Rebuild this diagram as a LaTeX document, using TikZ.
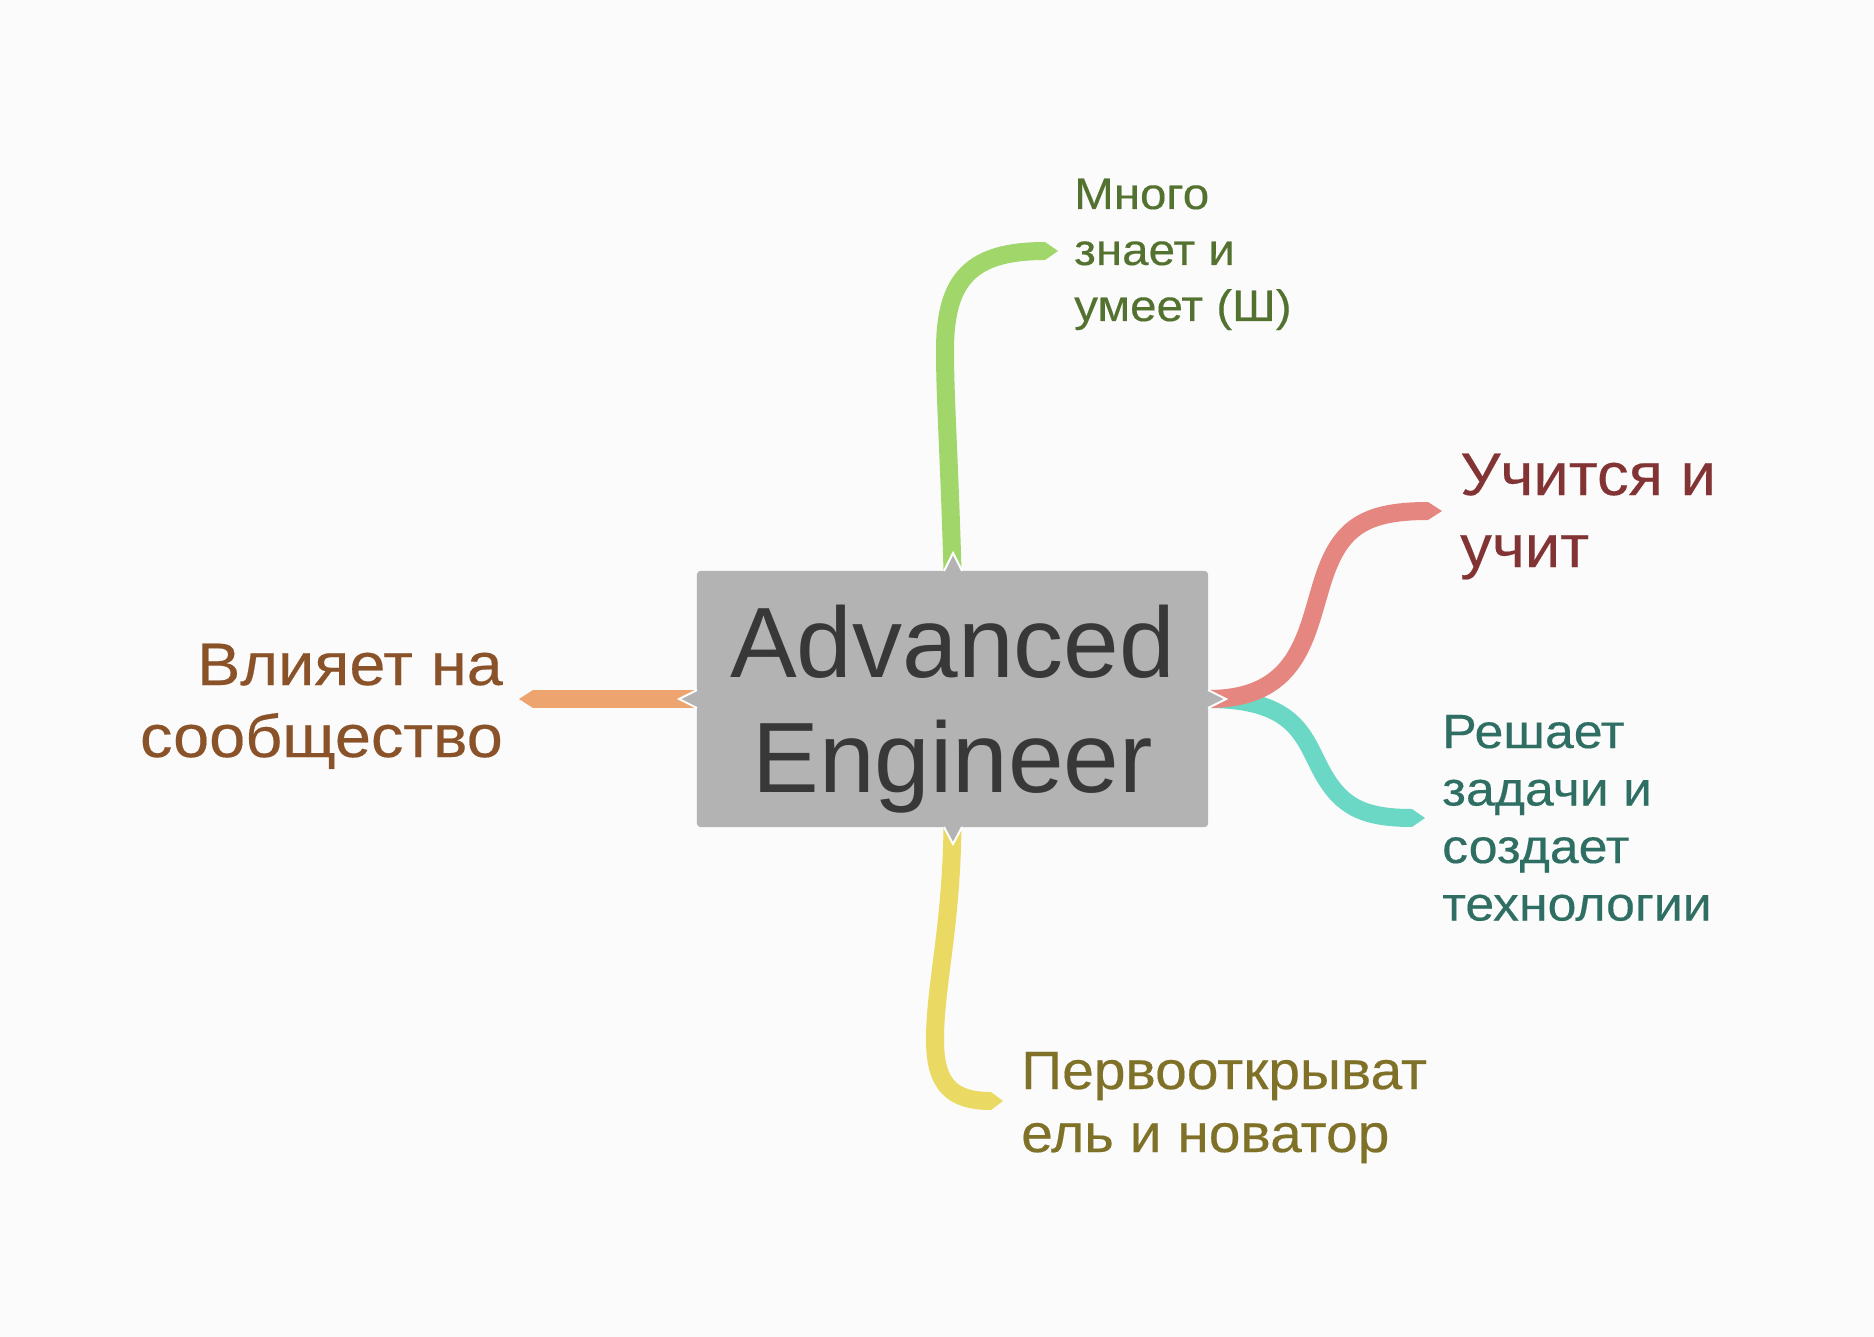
\documentclass[tikz,border=0pt]{standalone}
\usepackage{fontspec}
\setmainfont{Liberation Sans}
\newfontfamily\cyrwide{Liberation Sans}[FakeStretch=1.08, FakeBold=0.3]
\newfontfamily\cyrmid{Liberation Sans}[FakeStretch=1.055, FakeBold=0.3]
\newcommand\linesL[1]{\vtop{\halign{##\hfil\cr#1\crcr}}}
\newcommand\linesR[1]{\vtop{\halign{\hfil##\cr#1\crcr}}}
\newcommand\linesC[1]{\vtop{\halign{\hfil##\hfil\cr#1\crcr}}}
\definecolor{bg}{RGB}{251,251,251}
\definecolor{gline}{RGB}{160,214,106}
\definecolor{rline}{RGB}{229,135,128}
\definecolor{tline}{RGB}{106,216,196}
\definecolor{oline}{RGB}{238,164,110}
\definecolor{yline}{RGB}{234,217,98}
\definecolor{boxgray}{RGB}{179,179,179}
\definecolor{ctext}{RGB}{56,56,56}
\definecolor{gtext}{RGB}{83,114,47}
\definecolor{rtext}{RGB}{130,51,51}
\definecolor{ttext}{RGB}{47,110,98}
\definecolor{otext}{RGB}{138,82,40}
\definecolor{ytext}{RGB}{127,114,40}
\tikzset{
  branch/.style={line width=18pt},
  label/.style={inner sep=0pt},
  notchfill/.style={fill=boxgray},
  notchline/.style={draw=white, line width=2pt, line join=miter},
  centerbox/.style={rounded corners=4pt, minimum width=511pt, minimum height=256pt, inner sep=0pt}
}
\begin{document}
\begin{tikzpicture}[x=1pt,y=-1pt]
\fill[bg] (0,0) rectangle (1874,1337);
\useasboundingbox (0,0) rectangle (1874,1337);

% central topic (shape used for anchors)
\coordinate (cpos) at (952.5,699);
\path (cpos) node[centerbox] (center) {};

% connector ends
\coordinate (eknow) at (1045,251);
\coordinate (elearn) at (1428,511);
\coordinate (esolve) at (1412,818);
\coordinate (eimpact) at (533,699);
\coordinate (epioneer) at (991,1101);

% connectors
\draw[branch, gline] (center.north) .. controls (949,450) and (945,400) .. (945,350) .. controls (945,278) and (972,251) .. (eknow);
\fill[gline] (eknow) ++(0,-9) -- ++(13,9) -- ++(-13,9) -- cycle;

\draw[branch, tline] (center.east) .. controls (1290,699) and (1302,732) .. (1318,764) .. controls (1338,805) and (1360,818) .. (esolve);
\fill[tline] (esolve) ++(0,-9) -- ++(13,9) -- ++(-13,9) -- cycle;

\draw[branch, rline] (center.east) .. controls (1295,699) and (1305,640) .. (1320,590) .. controls (1337,530) and (1360,511) .. (elearn);
\fill[rline] (elearn) ++(0,-9) -- ++(14,9) -- ++(-14,9) -- cycle;

\draw[branch, oline] (center.west) -- (eimpact);
\fill[oline] (eimpact) ++(0,-9) -- ++(-14,9) -- ++(14,9) -- cycle;

\draw[branch, yline] (center.south) .. controls (951,930) and (935,985) .. (935,1040) .. controls (935,1085) and (952,1101) .. (epioneer);
\fill[yline] (epioneer) ++(0,-9) -- ++(12,9) -- ++(-12,9) -- cycle;

% box drawn over line starts
\fill[boxgray, rounded corners=4pt] (center.south west) rectangle (center.north east);

% notches
\fill[notchfill] (944,571) -- (953,553) -- (962,571) -- cycle;
\draw[notchline] (944,571) -- (953,553) -- (962,571);
\fill[notchfill] (944,827) -- (953,844) -- (962,827) -- cycle;
\draw[notchline] (944,827) -- (953,844) -- (962,827);
\fill[notchfill] (697,690) -- (679,699) -- (697,708) -- cycle;
\draw[notchline] (697,690) -- (679,699) -- (697,708);
\fill[notchfill] (1208,690) -- (1226,699) -- (1208,708) -- cycle;
\draw[notchline] (1208,690) -- (1226,699) -- (1208,708);

% texts
\node[label, anchor=base, text=ctext, font=\fontsize{100pt}{115pt}\selectfont] (ctitle) at (952.5,677) {\linesC{Advanced\cr Engineer}};
\node[label, anchor=base west, text=gtext, font=\cyrwide\fontsize{44pt}{56pt}\selectfont] (tknow) at (1074,209) {\linesL{Много\cr знает и\cr умеет (Ш)}};
\node[label, anchor=base west, text=rtext, font=\cyrmid\fontsize{60pt}{72pt}\selectfont] (tlearn) at (1460,495) {\linesL{Учится и\cr учит}};
\node[label, anchor=base west, text=ttext, font=\cyrwide\fontsize{48pt}{57.5pt}\selectfont] (tsolve) at (1442,748) {\linesL{Решает\cr задачи и\cr создает\cr технологии}};
\node[label, anchor=base east, text=otext, font=\cyrwide\fontsize{60pt}{72pt}\selectfont] (timpact) at (503,685) {\linesR{Влияет на\cr сообщество}};
\node[label, anchor=base west, text=ytext, font=\cyrmid\fontsize{54pt}{63pt}\selectfont] (tpioneer) at (1021,1089) {\linesL{Первооткрыват\cr ель и новатор}};
\end{tikzpicture}
\end{document}
